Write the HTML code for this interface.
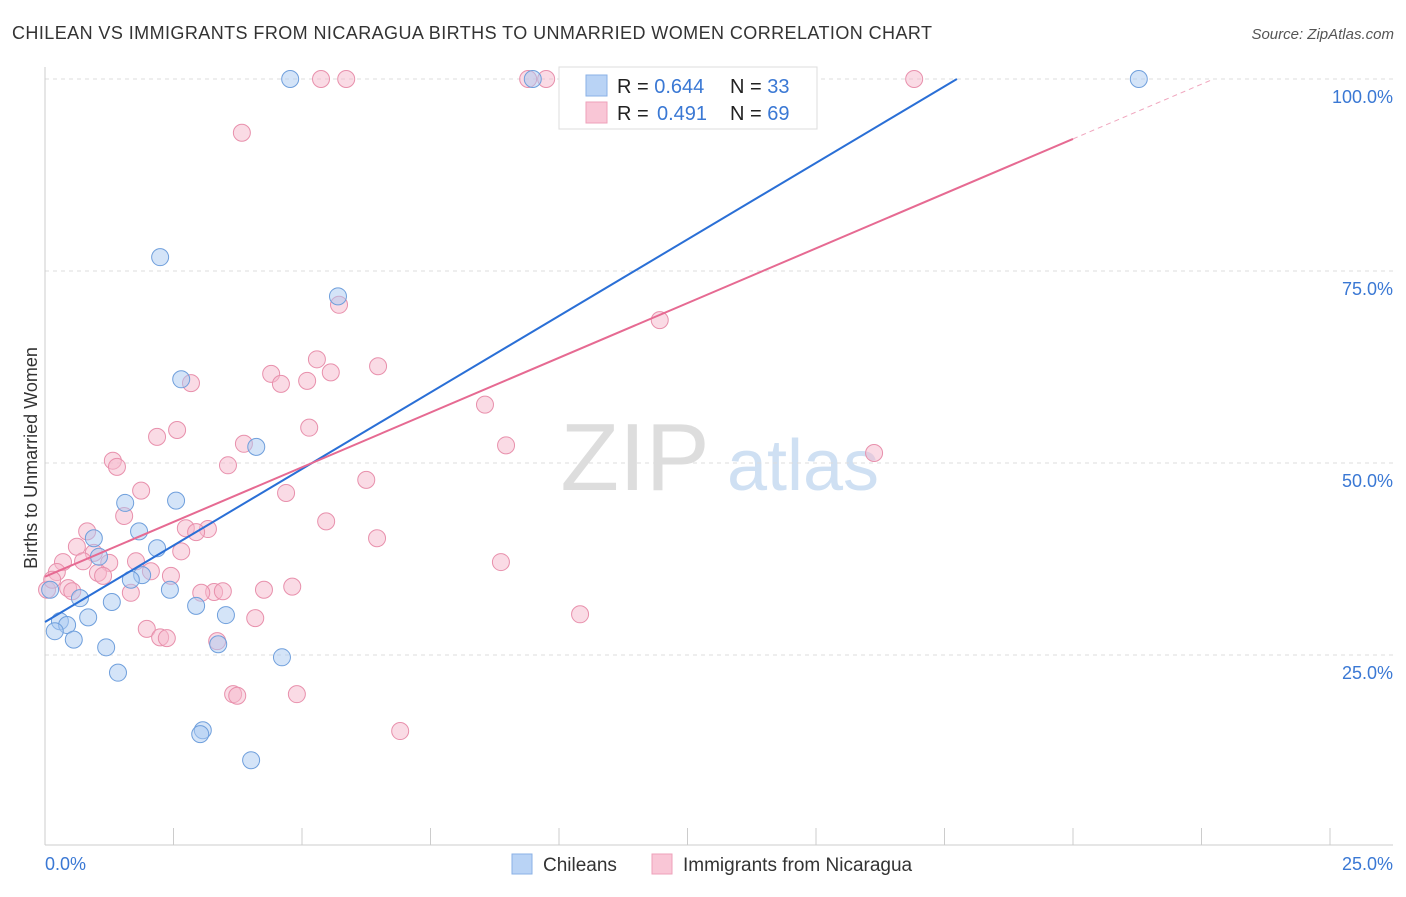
<!DOCTYPE html>
<html><head><meta charset="utf-8"><style>
body{margin:0;background:#fff;font-family:"Liberation Sans",sans-serif;}
svg text{font-family:"Liberation Sans",sans-serif;}
</style></head><body>
<svg id="c" width="1406" height="892">
<text x="12" y="39" font-size="18" fill="#333" textLength="920">CHILEAN VS IMMIGRANTS FROM NICARAGUA BIRTHS TO UNMARRIED WOMEN CORRELATION CHART</text>
<text x="1394" y="39" font-size="15" fill="#555" font-style="italic" text-anchor="end">Source: ZipAtlas.com</text>
<text x="37" y="458" font-size="18" fill="#333" text-anchor="middle" transform="rotate(-90 37 458)">Births to Unmarried Women</text>
<g><text x="635" y="490" font-size="96" fill="#ddd" font-family="Liberation Serif" text-anchor="middle">ZIP</text><text x="803" y="490" font-size="72" fill="#cfe0f3" text-anchor="middle">atlas</text></g>
<g id="grid"></g><g id="marks"></g>
<g>
<rect x="559" y="67" width="258" height="62" fill="#fff" stroke="#ddd"/>
<rect x="586" y="75" width="21" height="21" fill="#b9d3f5" stroke="#8ab0e6"/>
<rect x="586" y="102" width="21" height="21" fill="#f9c6d6" stroke="#eea0ba"/>
<text x="617" y="93" font-size="20" fill="#222">R = <tspan fill="#3a78d4">0.644</tspan><tspan x="730">N = </tspan><tspan fill="#3a78d4">33</tspan></text>
<text x="617" y="120" font-size="20" fill="#222">R = <tspan x="657" fill="#3a78d4">0.491</tspan><tspan x="730">N = </tspan><tspan fill="#3a78d4">69</tspan></text>
</g>
<g>
<rect x="512" y="854" width="20" height="20" fill="#b9d3f5" stroke="#8ab0e6"/>
<text x="543" y="871" font-size="19" fill="#333">Chileans</text>
<rect x="652" y="854" width="20" height="20" fill="#f9c6d6" stroke="#eea0ba"/>
<text x="683" y="871" font-size="19" fill="#333">Immigrants from Nicaragua</text>
</g>
</svg>
<script>
const yTicks=[25,50,75,100];
const xTickLabels=["0.0%","25.0%"];
const blueX=[4.77,9.49,21.28,2.24,5.70,2.65,4.11,1.56,2.55,1.83,0.95,2.18,1.05,1.89,1.67,0.68,2.43,1.30,2.94,3.52,0.84,0.29,0.43,0.19,0.56,1.19,3.37,4.61,1.42,3.07,3.02,4.01,0.10];
const blueY=[100,100,100,76.8,71.7,60.9,52.1,44.8,45.1,41.1,40.2,38.9,37.8,35.4,34.8,32.4,33.5,31.9,31.4,30.2,29.9,29.4,28.9,28.1,27.0,26.0,26.4,24.7,22.7,15.2,14.7,11.3,33.5];
const pinkX=[5.37,5.86,9.40,9.75,16.91,3.83,5.72,11.96,5.29,6.48,4.40,5.56,2.84,5.10,4.59,8.56,2.57,2.18,5.14,3.87,8.97,16.13,1.32,1.40,3.56,1.87,4.69,6.25,1.54,5.47,2.74,0.82,3.17,2.94,6.46,0.62,2.65,0.95,1.25,1.77,0.35,0.74,8.87,2.06,1.03,0.23,1.13,2.45,0.45,0.04,0.53,1.67,3.29,3.04,3.46,4.26,4.81,10.41,4.09,1.98,2.24,2.37,3.35,3.66,3.74,4.90,6.91,0.14];
const pinkY=[100,100,100,100,100,93.0,70.6,68.6,63.5,62.6,61.6,61.8,60.4,60.7,60.3,57.6,54.3,53.4,54.6,52.5,52.3,51.3,50.3,49.5,49.7,46.4,46.1,47.8,43.1,42.4,41.5,41.1,41.4,41.0,40.2,39.1,38.5,38.3,37.0,37.2,37.1,37.2,37.1,35.9,35.7,35.8,35.3,35.3,33.7,33.5,33.3,33.1,33.2,33.1,33.3,33.5,33.9,30.3,29.8,28.4,27.3,27.2,26.8,19.9,19.7,19.9,15.1,34.8];
const blueTrend=[29.3,3.985];
const pinkTrend=[35.2,2.85];
const NS="http://www.w3.org/2000/svg";
const sx=v=>45+v*51.4, sy=v=>847-v*7.68;
function mk(p,tag,a){const e=document.createElementNS(NS,tag);for(const k in a)e.setAttribute(k,a[k]);p.appendChild(e);return e;}
const grid=document.getElementById('grid'),marks=document.getElementById('marks');
yTicks.forEach(t=>{
 const l=mk(grid,'line',{x1:45,x2:1393,y1:sy(t),y2:sy(t),stroke:'#ddd','stroke-dasharray':'4,4'});
 
 
 const tx=mk(grid,'text',{x:1393,y:sy(t)+24,'font-size':18,fill:'#3a78d4','text-anchor':'end'});tx.textContent=t.toFixed(1)+'%';
 
 
});
mk(grid,'line',{x1:45,x2:45,y1:67,y2:845,stroke:'#ccc'});
mk(grid,'line',{x1:45,x2:1393,y1:845,y2:845,stroke:'#ccc'});
for(let i=0;i<=10;i++){mk(grid,'line',{x1:sx(i*2.5),x2:sx(i*2.5),y1:828,y2:845,stroke:'#ccc'});}
xTickLabels.forEach((s,i)=>{const tx=mk(grid,'text',{x:i?1393:45,y:870,'font-size':18,fill:'#3a78d4','text-anchor':i?'end':'start'});tx.textContent=s;
 
 });
function pts(X,Y,fill,stroke,name){X.forEach((x,i)=>{const c=mk(marks,'circle',{cx:sx(x),cy:sy(Y[i]),r:8.5,fill:fill,'fill-opacity':0.5,stroke:stroke,'stroke-width':1});
 
 });}
pts(pinkX,pinkY,'#f6b7cb','#e890ac','point-nicaragua');
pts(blueX,blueY,'#a9c9f2','#6f9fdc','point-chilean');
const bx=(100-blueTrend[0])/blueTrend[1];
const bl=mk(marks,'line',{x1:sx(0),y1:sy(blueTrend[0]),x2:sx(bx),y2:sy(100),stroke:'#2a6fd6','stroke-width':2});


const pl=mk(marks,'line',{x1:sx(0),y1:sy(pinkTrend[0]),x2:sx(20),y2:sy(pinkTrend[0]+20*pinkTrend[1]),stroke:'#e66a92','stroke-width':2});


const px2=(100-pinkTrend[0])/pinkTrend[1];
const pd=mk(marks,'line',{x1:sx(20),y1:sy(pinkTrend[0]+20*pinkTrend[1]),x2:sx(px2),y2:sy(100),stroke:'#e66a92','stroke-width':1,'stroke-dasharray':'5,4','stroke-opacity':0.6});


</script>
</body></html>
